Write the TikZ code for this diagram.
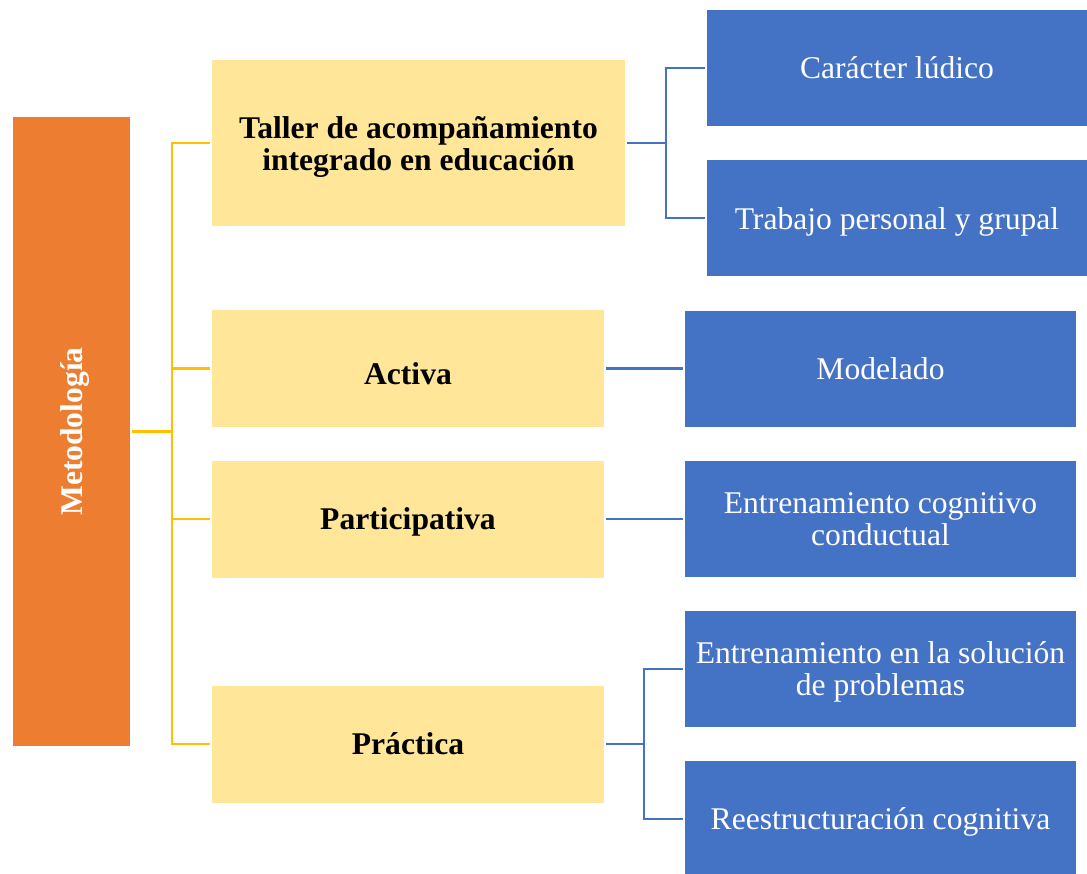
\documentclass[tikz,border=0pt]{standalone}
\usepackage{fontspec}
\setmainfont{Liberation Serif}
\definecolor{metoOrange}{HTML}{ED7D31}
\definecolor{tipoYellow}{HTML}{FFE699}
\definecolor{lineYellow}{HTML}{FFC000}
\definecolor{tecBlue}{HTML}{4472C4}
% invisible strut that lowers the text a little inside its box
\newcommand{\textdrop}[1]{\rule{0pt}{#1}}
\begin{document}
\begin{tikzpicture}[x=0.5pt,y=-0.5pt,
        txt/.style={inner sep=0pt, align=center, font=\fontsize{15.8}{16.2}\selectfont},
        tipo/.style={txt, fill=tipoYellow, font=\fontsize{15.8}{16.2}\selectfont\bfseries, minimum width=196pt, minimum height=58.5pt},
        tecnica/.style={txt, fill=tecBlue, text=white, minimum width=195.5pt, minimum height=58pt},
        yline/.style={draw=lineYellow, line width=1.25pt, shorten <=1pt, shorten >=1pt},
        bline/.style={draw=tecBlue, line width=1.25pt, shorten <=1pt, shorten >=1pt}]
        \useasboundingbox (0,0) rectangle (1087,873);

        \node[txt, fill=metoOrange, text=white, rotate=90, minimum width=314.5pt, minimum height=58.5pt,
            font=\fontsize{15.8}{16.2}\selectfont\bfseries] (meto) at (71.5,431.5) {\textdrop{14pt}Metodología};

        \node[tipo, minimum width=206.5pt, minimum height=83pt] (taller) at (418.5,143) {
            \textdrop{15pt}Taller de acompañamiento\\
            integrado en educación
        };
        \node[tipo] (activa) at (408,368.5) {\textdrop{16pt}Activa};
        \node[tipo] (participativa) at (408,519) {\textdrop{14pt}Participativa};
        \node[tipo] (practica) at (408,744) {Práctica};

        \node[tecnica, minimum width=190pt] (ludico) at (897,68) {Carácter lúdico};
        \node[tecnica, minimum width=190pt] (trabajo) at (897,218) {\textdrop{15pt}Trabajo personal y grupal};
        \node[tecnica] (modelado) at (880.5,368.5) {Modelado};
        \node[tecnica] (cognitivo) at (880.5,519) {Entrenamiento cognitivo\\conductual};
        \node[tecnica] (solucion) at (880.5,669) {\textdrop{14pt}Entrenamiento en la solución\\de problemas};
        \node[tecnica] (reestructuracion) at (880.5,819) {\textdrop{14pt}Reestructuración cognitiva};

        \coordinate (trunk) at (172,431.5);
        \coordinate (tjoin) at (666,143);
        \coordinate (pjoin) at (644,744);

        \draw[yline, shorten >=0pt] (meto.south) -- (trunk);
        \draw[yline] (taller.west) -| (trunk) |- (practica.west);
        \draw[yline, shorten >=0pt] (activa.west) -- (activa.west -| trunk);
        \draw[yline, shorten >=0pt] (participativa.west) -- (participativa.west -| trunk);

        \draw[bline, shorten >=0pt] (taller.east) -- (tjoin);
        \draw[bline] (ludico.west) -| (tjoin) |- (trabajo.west);
        \draw[bline] (activa.east) -- (modelado.west);
        \draw[bline] (participativa.east) -- (cognitivo.west);
        \draw[bline, shorten >=0pt] (practica.east) -- (pjoin);
        \draw[bline] (solucion.west) -| (pjoin) |- (reestructuracion.west);
    \end{tikzpicture}
\end{document}
